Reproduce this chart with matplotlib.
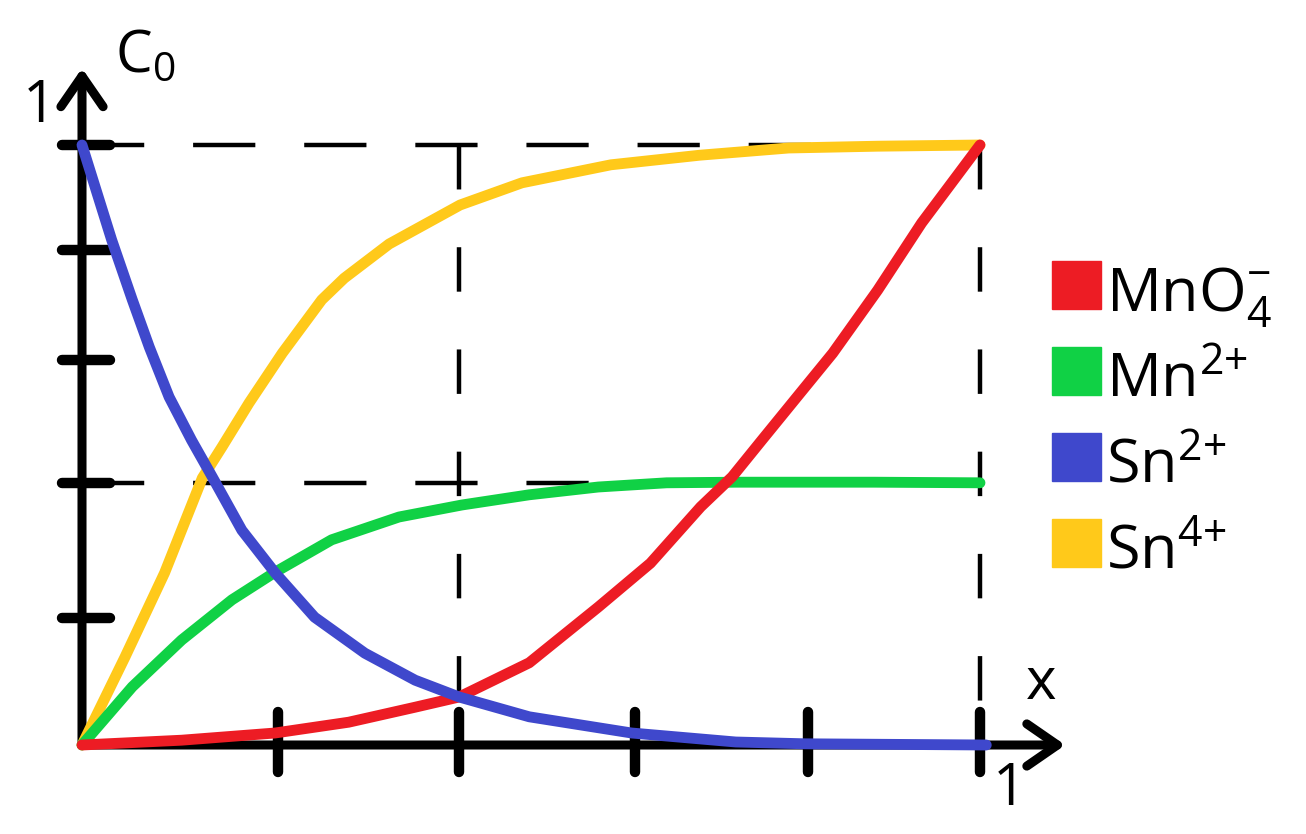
#!/usr/bin/env python3
"""Concentration profiles for the MnO4- / Sn2+ titration sketch."""

import matplotlib
matplotlib.use("Agg")
import matplotlib.pyplot as plt
from matplotlib.patches import Rectangle

# x values (fraction of titrant) and relative concentrations
x_sn4 = [0.0, 0.048, 0.092, 0.134, 0.156, 0.186, 0.223, 0.267, 0.292, 0.342,
         0.421, 0.490, 0.589, 0.688, 0.787, 0.886, 1.0]
y_sn4 = [0.0, 0.147, 0.287, 0.445, 0.497, 0.570, 0.653, 0.742, 0.778, 0.835,
         0.900, 0.937, 0.967, 0.983, 0.995, 0.998, 1.0]

x_sn2 = [0.0, 0.033, 0.056, 0.075, 0.097, 0.122, 0.145, 0.178, 0.215, 0.259,
         0.315, 0.371, 0.420, 0.498, 0.612, 0.728, 0.805, 1.007]
y_sn2 = [1.0, 0.842, 0.742, 0.663, 0.580, 0.508, 0.447, 0.358, 0.287, 0.213,
         0.153, 0.108, 0.080, 0.047, 0.020, 0.005, 0.002, 0.0]

x_mn2 = [0.0, 0.056, 0.111, 0.167, 0.215, 0.278, 0.353, 0.423, 0.498, 0.575,
         0.651, 0.728, 0.882, 1.0]
y_mn2 = [0.0, 0.097, 0.175, 0.242, 0.288, 0.342, 0.380, 0.400, 0.417, 0.430,
         0.437, 0.438, 0.438, 0.437]

x_mno4 = [0.0, 0.111, 0.215, 0.297, 0.371, 0.420, 0.498, 0.575, 0.633, 0.689,
          0.724, 0.757, 0.800, 0.836, 0.886, 0.935, 1.0]
y_mno4 = [0.0, 0.008, 0.020, 0.038, 0.063, 0.080, 0.137, 0.230, 0.303, 0.397,
          0.447, 0.508, 0.587, 0.653, 0.758, 0.870, 1.0]

x_ticks = [0.218, 0.42, 0.616, 0.808, 1.0]
y_ticks = [0.212, 0.437, 0.642, 0.825, 1.0]

x_guide = [0.42, 1.0]
y_guide = [0.437, 1.0]

legend_labels = [r"MnO$_4^{-}$", r"Mn$^{2{+}}$", r"Sn$^{2{+}}$", r"Sn$^{4{+}}$"]
legend_colors = ["#ED1C24", "#10D145", "#3F48CC", "#FFC91A"]

plt.rcParams["font.family"] = ["Open Sans", "DejaVu Sans"]
plt.rcParams["mathtext.fontset"] = "custom"
plt.rcParams["mathtext.rm"] = "Open Sans"
plt.rcParams["mathtext.it"] = "Open Sans"
plt.rcParams["mathtext.default"] = "regular"

W, H = 1306, 834
fig = plt.figure(figsize=(W / 100, H / 100), dpi=100)
ax = fig.add_axes([0, 0, 1, 1])
ax.set_axis_off()
# pixel origin at (82, 745), x=1 at px 980, y=1 at px 145
ax.set_xlim(-82 / 898, (W - 82) / 898)
ax.set_ylim((745 - H) / 600, 745 / 600)

# dashed guide lines
for yg in y_guide:
    ax.plot([0, 1], [yg, yg], color="black", lw=3.2, dashes=(14, 11), zorder=1)
for xg in x_guide:
    ax.plot([xg, xg], [1, 0], color="black", lw=3.2, dashes=(10, 13), zorder=1)

# axes with arrows
arrow = dict(arrowstyle="->,head_length=0.55,head_width=0.38", lw=6.5,
             color="black", mutation_scale=40, capstyle="round", joinstyle="round",
             shrinkA=0, shrinkB=0)
ax.annotate("", xy=(0, 1.128), xytext=(0, 0), arrowprops=arrow, zorder=3)
ax.annotate("", xy=(1.095, 0), xytext=(0, 0), arrowprops=arrow, zorder=3)

for xt in x_ticks:
    ax.plot([xt, xt], [0.055, -0.045], color="black", lw=7.5,
            solid_capstyle="round", zorder=3)
for yt in y_ticks:
    ax.plot([-0.022, 0.031], [yt, yt], color="black", lw=7.5,
            solid_capstyle="round", zorder=3)

# curves
curve = dict(lw=7.8, solid_capstyle="round", solid_joinstyle="round")
ax.plot(x_sn4, y_sn4, color=legend_colors[3], zorder=4, **curve)
ax.plot(x_mn2, y_mn2, color=legend_colors[1], zorder=5, **curve)
ax.plot(x_mno4, y_mno4, color=legend_colors[0], zorder=6, **curve)
ax.plot(x_sn2, y_sn2, color=legend_colors[2], zorder=7, **curve)

# axis labels
ax.text(0.037, 1.122, r"C$_0$", fontsize=42, ha="left", va="baseline")
ax.text(-0.047, 1.063, "1", fontsize=42, ha="center", va="center")
ax.text(1.068, 0.102, "x", fontsize=42, ha="center", va="center")
ax.text(1.033, -0.075, "1", fontsize=42, ha="center", va="center")

# legend drawn by hand as colour squares + labels
for i, (lab, col) in enumerate(zip(legend_labels, legend_colors)):
    top = 261 + i * 86
    fig.patches.append(Rectangle((1052 / W, 1 - (top + 48) / H), 49 / W, 48 / H,
                                 transform=fig.transFigure, color=col))
    fig.text(1106 / W, 1 - (top + 50) / H, lab, fontsize=44, ha="left",
             va="baseline")

fig.savefig("out.png", dpi=100)
